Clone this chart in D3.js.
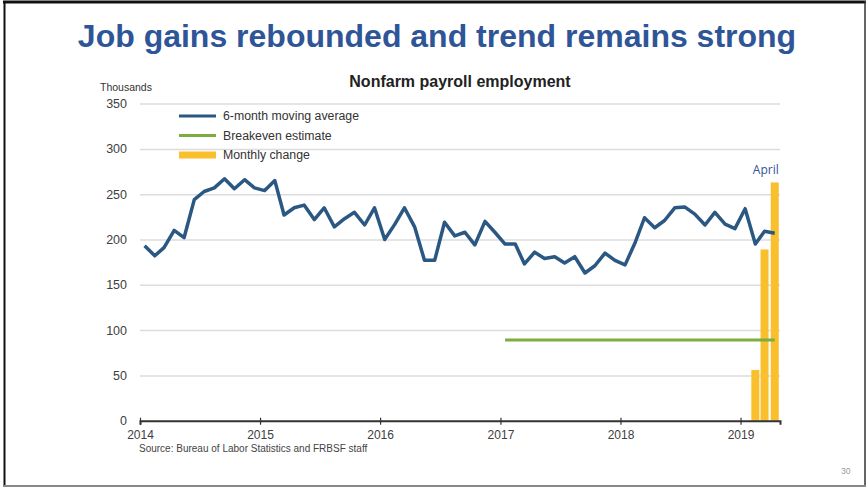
<!DOCTYPE html>
<html>
<head>
<meta charset="utf-8">
<script src="https://cdn.jsdelivr.net/npm/d3@7"></script>
<style>
  html, body { margin: 0; padding: 0; background: #fff; }
  svg { display: block; font-family: "Liberation Sans", Arial, sans-serif; }
</style>
</head>
<body>
<svg id="chart" width="867" height="487"></svg>
<script>
// Nonfarm payroll employment, thousands of jobs per month
const firstMonth = "2014-01";
const movingAverage = [
  193, 182, 191, 210, 202, 244, 253, 257, 267, 256, 266, 257,
  254, 265, 227, 235, 238, 222, 235, 214, 223, 230, 216, 235,
  200, 217, 235, 214, 177, 177, 219, 204, 208, 194, 220, 208,
  195, 195, 173, 186, 179, 181, 174, 181, 163, 171, 185, 177,
  172, 197, 224, 213, 221, 235, 236, 228, 216, 230, 217, 212,
  234, 195, 209, 207
];
const changeMonths = ["2019-02", "2019-03", "2019-04"];
const monthlyChange = [56, 189, 263];
const breakevenStart = "2017-01";
const breakevenEnd = "2019-04";
const breakevenValue = 89;
const yTicks = [0, 50, 100, 150, 200, 250, 300, 350];
const xTickYears = [2014, 2015, 2016, 2017, 2018, 2019];
const legendLabels = ["6-month moving average", "Breakeven estimate", "Monthly change"];

const colors = {
  avg: "#2b5883",
  breakeven: "#7cae3e",
  change: "#f9bf2c",
  title: "#2e5597",
  grid: "#dcdcdc",
  text: "#404040"
};

const parseMonth = d3.timeParse("%Y-%m");
const midMonth = s => d3.timeDay.offset(parseMonth(s), 14);

const start = parseMonth(firstMonth);
const avgData = movingAverage.map((v, i) => ({
  date: d3.timeDay.offset(d3.timeMonth.offset(start, i), 14),
  value: v
}));
const barData = changeMonths.map((m, i) => ({ date: midMonth(m), value: monthlyChange[i] }));

const svg = d3.select("#chart");

// slide frame
svg.append("line").attr("x1", 3).attr("x2", 866).attr("y1", 2).attr("y2", 2)
  .attr("stroke", "#111").attr("stroke-width", 3);
svg.append("line").attr("x1", 4.5).attr("x2", 4.5).attr("y1", 1).attr("y2", 487)
  .attr("stroke", "#111").attr("stroke-width", 2);
svg.append("line").attr("x1", 865).attr("x2", 865).attr("y1", 1).attr("y2", 487)
  .attr("stroke", "#333").attr("stroke-width", 1.5);
svg.append("line").attr("x1", 4).attr("x2", 866).attr("y1", 486).attr("y2", 486)
  .attr("stroke", "#888").attr("stroke-width", 2);

// slide headline
svg.append("text")
  .attr("x", 437).attr("y", 47)
  .attr("text-anchor", "middle")
  .attr("fill", colors.title)
  .style("font-size", "32px").style("font-weight", "bold")
  .text("Job gains rebounded and trend remains strong");

// chart title
svg.append("text")
  .attr("x", 460).attr("y", 87)
  .attr("text-anchor", "middle")
  .attr("fill", "#222")
  .style("font-size", "16px").style("font-weight", "bold")
  .text("Nonfarm payroll employment");

svg.append("text")
  .attr("x", 100).attr("y", 91)
  .attr("fill", "#333")
  .style("font-size", "10.5px")
  .text("Thousands");

const x = d3.scaleTime()
  .domain([new Date(2014, 0, 1), new Date(2019, 4, 1)])
  .range([140, 780]);
const y = d3.scaleLinear().domain([0, 350]).range([420.7, 103.6]);

// horizontal grid and y labels
const yAxis = svg.append("g")
  .attr("transform", "translate(140,0)")
  .call(d3.axisLeft(y).tickValues(yTicks).tickSize(-640).tickPadding(13));
yAxis.select(".domain").remove();
yAxis.selectAll(".tick line")
  .attr("stroke", colors.grid).attr("stroke-width", 1.5)
  .filter(d => d === 0).remove();
yAxis.selectAll(".tick text")
  .attr("fill", colors.text)
  .style("font-size", "12.5px").style("font-family", "Liberation Sans, Arial, sans-serif");

// monthly change bars
const barW = 8;
svg.append("g").selectAll("rect").data(barData).join("rect")
  .attr("x", d => x(d.date) - barW / 2)
  .attr("width", barW)
  .attr("y", d => y(d.value))
  .attr("height", d => y(0) - y(d.value))
  .attr("fill", colors.change);

// breakeven estimate, drawn across the bars
svg.append("line")
  .attr("x1", x(midMonth(breakevenStart)))
  .attr("x2", x(midMonth(breakevenEnd)))
  .attr("y1", y(breakevenValue)).attr("y2", y(breakevenValue))
  .attr("stroke", colors.breakeven).attr("stroke-width", 3);

// 6-month moving average
svg.append("path")
  .datum(avgData)
  .attr("fill", "none")
  .attr("stroke", colors.avg)
  .attr("stroke-width", 3.5)
  .attr("stroke-linejoin", "round")
  .attr("d", d3.line().x(d => x(d.date)).y(d => y(d.value)));

// x axis
const xAxis = svg.append("g")
  .attr("transform", `translate(0,${y(0)})`)
  .call(d3.axisBottom(x)
    .tickValues(xTickYears.map(yr => new Date(yr, 0, 1)))
    .tickFormat(d3.timeFormat("%Y"))
    .tickSizeOuter(0).tickSize(4).tickPadding(6));
xAxis.select(".domain").attr("stroke", "#333").attr("stroke-width", 2);
xAxis.selectAll(".tick line").attr("stroke", "#333").attr("stroke-width", 1.2)
  .attr("y1", -3);
xAxis.selectAll(".tick text")
  .attr("fill", colors.text)
  .style("font-size", "12px").style("font-family", "Liberation Sans, Arial, sans-serif");

// April label above the last bar
const last = barData[barData.length - 1];
svg.append("text")
  .attr("x", x(last.date) + barW / 2)
  .attr("y", y(last.value) - 8)
  .attr("text-anchor", "end")
  .attr("fill", colors.title)
  .style("font-size", "12px")
  .style("font-family", "Open Sans, sans-serif")
  .text("April");

// legend
const legendColors = [colors.avg, colors.breakeven, colors.change];
const legendWidths = [3, 3, 7];
const legend = svg.append("g");
legendLabels.forEach((label, i) => {
  const ly = 116 + i * 19.5;
  legend.append("line")
    .attr("x1", 179).attr("x2", 216).attr("y1", ly).attr("y2", ly)
    .attr("stroke", legendColors[i]).attr("stroke-width", legendWidths[i]);
  legend.append("text")
    .attr("x", 223).attr("y", ly + 4)
    .attr("fill", "#333")
    .style("font-size", "12.3px")
    .text(label);
});

// source note and page number
svg.append("text")
  .attr("x", 139).attr("y", 452)
  .attr("fill", "#444")
  .style("font-size", "10px")
  .text("Source: Bureau of Labor Statistics and FRBSF staff");

svg.append("text")
  .attr("x", 841).attr("y", 474)
  .attr("fill", "#999")
  .style("font-size", "8.5px")
  .text("30");
</script>
</body>
</html>
